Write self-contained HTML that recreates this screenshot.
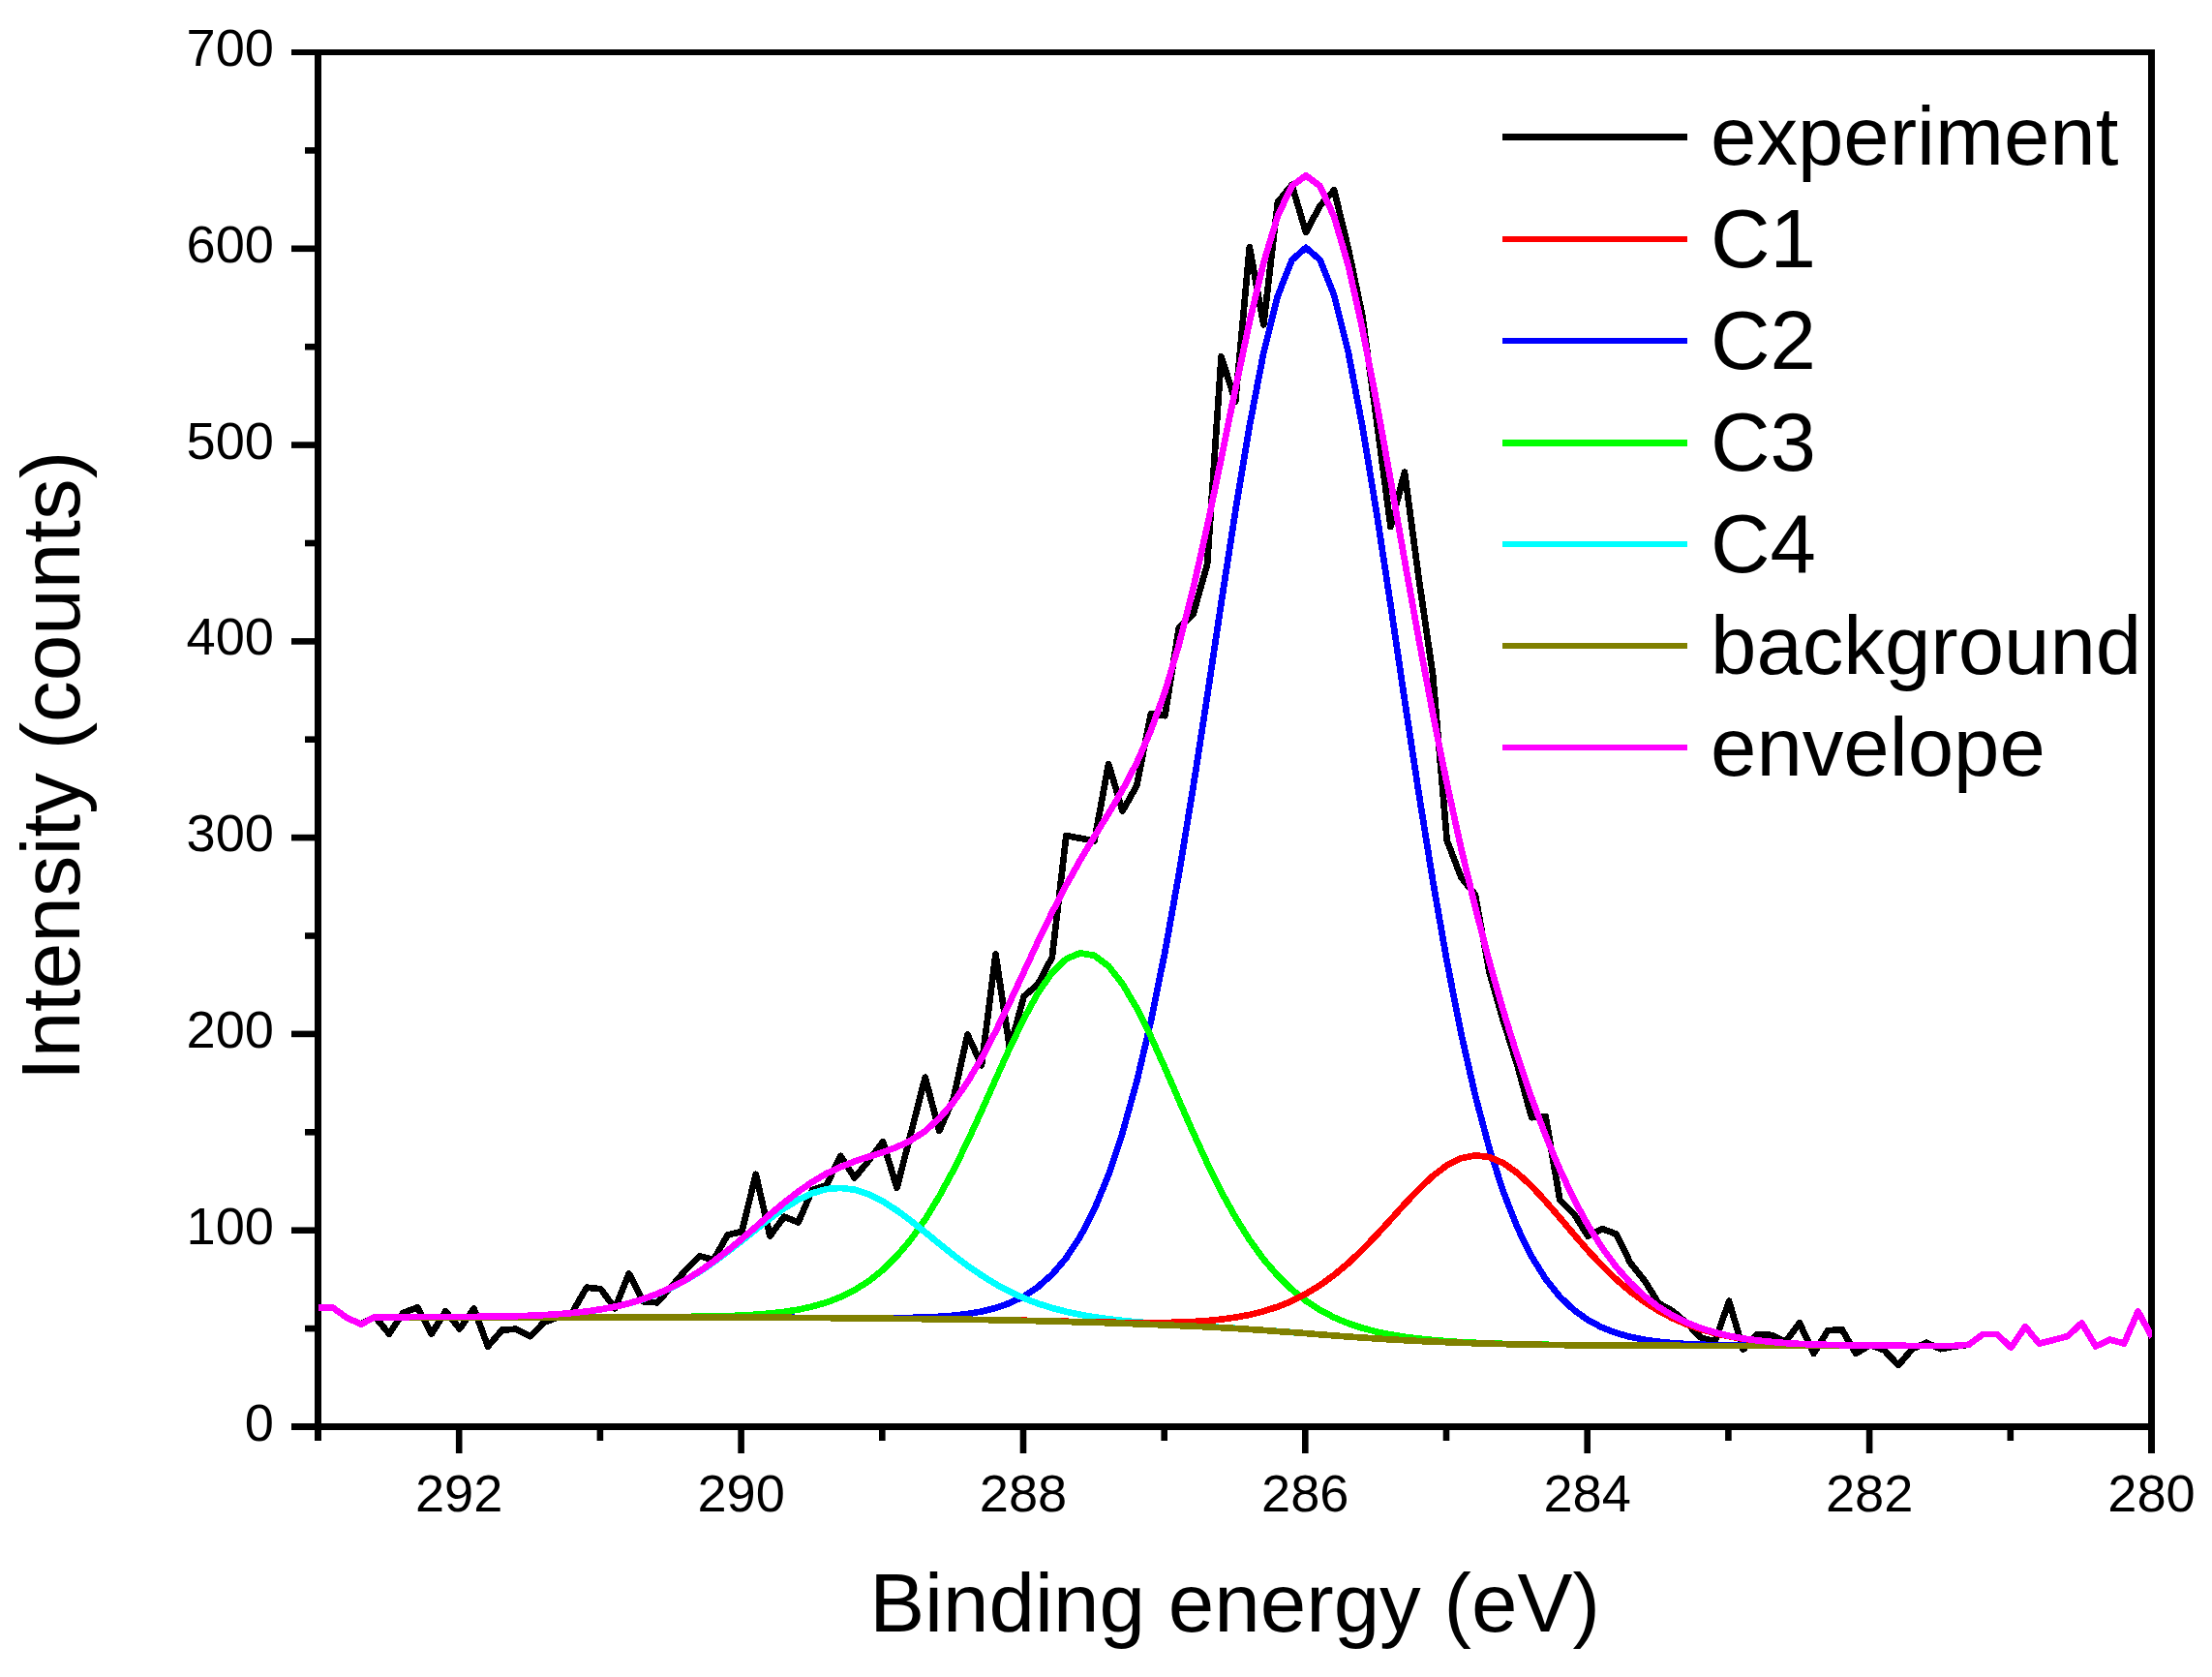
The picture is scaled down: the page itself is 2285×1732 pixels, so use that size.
<!DOCTYPE html>
<html lang="en"><head><meta charset="utf-8"><title>XPS C 1s fit</title>
<style>html,body{margin:0;padding:0;background:#fff;overflow:hidden}svg{display:block}</style></head>
<body>
<svg width="2285" height="1732" viewBox="0 0 2285 1732" role="img" aria-label="XPS C 1s spectrum with fitted components">
<rect width="2285" height="1732" fill="#fff"/>
<defs><clipPath id="pc"><rect x="327.8" y="34.0" width="1895.2" height="1439.5"/></clipPath></defs>
<g fill="#000">
<rect x="325" y="51" width="7" height="1437" shape-rendering="crispEdges"/>
<rect x="2219" y="51" width="7" height="1450" shape-rendering="crispEdges"/>
<rect x="301" y="51" width="1925" height="6" shape-rendering="crispEdges"/>
<rect x="301" y="1470" width="1925" height="7" shape-rendering="crispEdges"/>
<rect x="315" y="1368.8" width="12" height="6.6"/>
<rect x="301" y="1267.4" width="26" height="6.6"/>
<rect x="315" y="1166.0" width="12" height="6.6"/>
<rect x="301" y="1064.6" width="26" height="6.6"/>
<rect x="315" y="963.2" width="12" height="6.6"/>
<rect x="301" y="861.8" width="26" height="6.6"/>
<rect x="315" y="760.4" width="12" height="6.6"/>
<rect x="301" y="659.1" width="26" height="6.6"/>
<rect x="315" y="557.7" width="12" height="6.6"/>
<rect x="301" y="456.3" width="26" height="6.6"/>
<rect x="315" y="354.9" width="12" height="6.6"/>
<rect x="301" y="253.5" width="26" height="6.6"/>
<rect x="315" y="152.1" width="12" height="6.6"/>
<rect x="470.9" y="1475" width="6.6" height="26"/>
<rect x="616.6" y="1475" width="6.6" height="13"/>
<rect x="762.3" y="1475" width="6.6" height="26"/>
<rect x="908.0" y="1475" width="6.6" height="13"/>
<rect x="1053.7" y="1475" width="6.6" height="26"/>
<rect x="1199.4" y="1475" width="6.6" height="13"/>
<rect x="1345.0" y="1475" width="6.6" height="26"/>
<rect x="1490.7" y="1475" width="6.6" height="13"/>
<rect x="1636.4" y="1475" width="6.6" height="26"/>
<rect x="1782.1" y="1475" width="6.6" height="13"/>
<rect x="1927.8" y="1475" width="6.6" height="26"/>
<rect x="2073.5" y="1475" width="6.6" height="13"/>
</g>
<g clip-path="url(#pc)" fill="none" stroke-width="6.70" stroke-linejoin="round" stroke-linecap="butt" shape-rendering="crispEdges">
<polyline stroke="#000000" points="329.2,1350.5 343.8,1350.5 358.3,1361.0 372.9,1367.6 387.5,1360.0 402.0,1377.6 416.6,1355.9 431.2,1350.3 445.8,1377.6 460.3,1354.3 474.9,1372.4 489.5,1351.4 504.0,1390.6 518.6,1373.6 533.2,1372.7 547.7,1380.2 562.3,1365.4 576.9,1360.5 591.4,1355.1 606.0,1329.7 620.6,1331.3 635.2,1351.3 649.7,1315.4 664.3,1344.2 678.9,1345.3 693.4,1329.0 708.0,1312.0 722.6,1297.3 737.1,1301.0 751.7,1275.4 766.3,1272.0 780.8,1212.9 795.4,1276.5 810.0,1256.6 824.6,1262.4 839.1,1229.0 853.7,1224.0 868.3,1193.9 882.8,1216.5 897.4,1198.7 912.0,1179.1 926.5,1226.8 941.1,1170.0 955.7,1112.7 970.2,1168.0 984.8,1135.0 999.4,1068.5 1014.0,1100.2 1028.5,985.4 1043.1,1083.0 1057.7,1029.0 1072.2,1016.4 1086.8,988.7 1101.4,863.0 1115.9,865.8 1130.5,868.5 1145.1,789.0 1159.6,837.5 1174.2,811.6 1188.8,737.4 1203.4,739.2 1217.9,648.0 1232.5,634.4 1247.1,583.0 1261.6,368.3 1276.2,414.7 1290.8,255.2 1305.3,335.4 1319.9,208.8 1334.5,191.0 1349.0,240.1 1363.6,212.4 1378.2,196.4 1392.8,256.7 1407.3,326.0 1421.9,433.0 1436.5,544.0 1451.0,487.6 1465.6,597.0 1480.2,697.4 1494.7,868.0 1509.3,906.0 1523.9,924.0 1538.4,1003.6 1553.0,1054.5 1567.6,1101.0 1582.2,1154.2 1596.7,1153.3 1611.3,1239.2 1625.9,1253.7 1640.4,1276.8 1655.0,1269.1 1669.6,1274.5 1684.1,1304.3 1698.7,1322.4 1713.3,1345.9 1727.8,1354.0 1742.4,1366.5 1757.0,1381.5 1771.6,1385.5 1786.1,1343.8 1800.7,1393.7 1815.3,1377.9 1829.8,1378.9 1844.4,1385.9 1859.0,1366.4 1873.5,1398.0 1888.1,1374.3 1902.7,1373.1 1917.2,1398.0 1931.8,1388.9 1946.4,1394.5 1961.0,1410.0 1975.5,1393.0 1990.1,1386.8 2004.7,1393.2 2019.2,1390.6 2033.8,1388.7 2048.4,1378.0 2062.9,1378.0 2077.5,1391.8 2092.1,1370.2 2106.6,1387.7 2121.2,1383.9 2135.8,1380.1 2150.4,1366.4 2164.9,1390.5 2179.5,1383.5 2194.1,1387.6 2208.6,1354.4 2223.2,1381.1"/>
<polyline stroke="#0000ff" points="387.5,1360.2 402.0,1360.2 416.6,1360.2 431.2,1360.2 445.8,1360.2 460.3,1360.2 474.9,1360.2 489.5,1360.2 504.0,1360.2 518.6,1360.2 533.2,1360.2 547.7,1360.2 562.3,1360.2 576.9,1360.2 591.4,1360.2 606.0,1360.2 620.6,1360.2 635.2,1360.2 649.7,1360.2 664.3,1360.2 678.9,1360.2 693.4,1360.3 708.0,1360.3 722.6,1360.3 737.1,1360.4 751.7,1360.4 766.3,1360.5 780.8,1360.6 795.4,1360.7 810.0,1360.7 824.6,1360.9 839.1,1361.0 853.7,1361.1 868.3,1361.2 882.8,1361.2 897.4,1361.3 912.0,1361.3 926.5,1361.2 941.1,1360.9 955.7,1360.5 970.2,1359.8 984.8,1358.7 999.4,1357.0 1014.0,1354.5 1028.5,1350.9 1043.1,1345.8 1057.7,1338.8 1072.2,1329.1 1086.8,1316.2 1101.4,1299.2 1115.9,1277.1 1130.5,1248.9 1145.1,1213.5 1159.6,1169.9 1174.2,1117.3 1188.8,1055.2 1203.4,983.3 1217.9,902.3 1232.5,813.5 1247.1,719.1 1261.6,622.4 1276.2,527.7 1290.8,439.9 1305.3,364.2 1319.9,305.7 1334.5,268.6 1349.0,255.8 1363.6,268.3 1378.2,305.2 1392.8,363.8 1407.3,440.0 1421.9,528.7 1436.5,624.7 1451.0,723.0 1465.6,819.2 1480.2,910.1 1494.7,993.2 1509.3,1067.2 1523.9,1131.3 1538.4,1185.8 1553.0,1231.1 1567.6,1268.1 1582.2,1297.7 1596.7,1321.1 1611.3,1339.2 1625.9,1353.0 1640.4,1363.4 1655.0,1371.1 1669.6,1376.7 1684.1,1380.8 1698.7,1383.7 1713.3,1385.7 1727.8,1387.1 1742.4,1388.1 1757.0,1388.7 1771.6,1389.2 1786.1,1389.5 1800.7,1389.6 1815.3,1389.8 1829.8,1389.8 1844.4,1389.9 1859.0,1389.9 1873.5,1389.9 1888.1,1389.9 1902.7,1389.9 1917.2,1389.9 1931.8,1389.9 1946.4,1390.0 1961.0,1390.0 1975.5,1390.0 1990.1,1390.0 2004.7,1390.0 2019.2,1390.0"/>
<polyline stroke="#00ff00" points="387.5,1360.2 402.0,1360.2 416.6,1360.2 431.2,1360.2 445.8,1360.2 460.3,1360.2 474.9,1360.2 489.5,1360.2 504.0,1360.2 518.6,1360.2 533.2,1360.2 547.7,1360.2 562.3,1360.2 576.9,1360.2 591.4,1360.2 606.0,1360.2 620.6,1360.2 635.2,1360.2 649.7,1360.2 664.3,1360.1 678.9,1360.1 693.4,1360.0 708.0,1359.9 722.6,1359.8 737.1,1359.5 751.7,1359.1 766.3,1358.6 780.8,1357.7 795.4,1356.5 810.0,1354.9 824.6,1352.6 839.1,1349.4 853.7,1345.2 868.3,1339.6 882.8,1332.4 897.4,1323.1 912.0,1311.5 926.5,1297.2 941.1,1279.9 955.7,1259.4 970.2,1235.6 984.8,1208.7 999.4,1179.1 1014.0,1147.4 1028.5,1114.7 1043.1,1082.4 1057.7,1052.1 1072.2,1025.6 1086.8,1004.5 1101.4,990.4 1115.9,984.3 1130.5,986.9 1145.1,997.8 1159.6,1016.3 1174.2,1041.1 1188.8,1070.5 1203.4,1102.9 1217.9,1136.4 1232.5,1169.6 1247.1,1201.4 1261.6,1230.8 1276.2,1257.2 1290.8,1280.5 1305.3,1300.6 1319.9,1317.6 1334.5,1331.8 1349.0,1343.5 1363.6,1353.0 1378.2,1360.7 1392.8,1366.8 1407.3,1371.6 1421.9,1375.4 1436.5,1378.4 1451.0,1380.8 1465.6,1382.6 1480.2,1384.0 1494.7,1385.2 1509.3,1386.1 1523.9,1386.8 1538.4,1387.4 1553.0,1387.9 1567.6,1388.3 1582.2,1388.6 1596.7,1388.8 1611.3,1389.1 1625.9,1389.2 1640.4,1389.4 1655.0,1389.5 1669.6,1389.6 1684.1,1389.7 1698.7,1389.8 1713.3,1389.8 1727.8,1389.8 1742.4,1389.9 1757.0,1389.9 1771.6,1389.9 1786.1,1389.9 1800.7,1389.9 1815.3,1389.9 1829.8,1389.9 1844.4,1389.9 1859.0,1389.9 1873.5,1389.9 1888.1,1389.9 1902.7,1390.0 1917.2,1390.0 1931.8,1390.0 1946.4,1390.0 1961.0,1390.0 1975.5,1390.0 1990.1,1390.0 2004.7,1390.0 2019.2,1390.0"/>
<polyline stroke="#00ffff" points="387.5,1360.2 402.0,1360.2 416.6,1360.2 431.2,1360.1 445.8,1360.1 460.3,1360.1 474.9,1360.0 489.5,1359.9 504.0,1359.7 518.6,1359.5 533.2,1359.2 547.7,1358.8 562.3,1358.1 576.9,1357.2 591.4,1356.1 606.0,1354.5 620.6,1352.4 635.2,1349.6 649.7,1346.2 664.3,1341.8 678.9,1336.5 693.4,1330.0 708.0,1322.4 722.6,1313.6 737.1,1303.7 751.7,1292.9 766.3,1281.5 780.8,1269.8 795.4,1258.4 810.0,1248.0 824.6,1239.1 839.1,1232.3 853.7,1228.1 868.3,1226.9 882.8,1228.7 897.4,1233.4 912.0,1240.7 926.5,1250.1 941.1,1260.9 955.7,1272.6 970.2,1284.5 984.8,1296.2 999.4,1307.2 1014.0,1317.2 1028.5,1326.2 1043.1,1334.0 1057.7,1340.7 1072.2,1346.3 1086.8,1350.9 1101.4,1354.7 1115.9,1357.8 1130.5,1360.3 1145.1,1362.3 1159.6,1364.0 1174.2,1365.3 1188.8,1366.5 1203.4,1367.5 1217.9,1368.4 1232.5,1369.3 1247.1,1370.1 1261.6,1371.0 1276.2,1371.9 1290.8,1372.9 1305.3,1373.9 1319.9,1374.9 1334.5,1376.0 1349.0,1377.1 1363.6,1378.3 1378.2,1379.4 1392.8,1380.5 1407.3,1381.5 1421.9,1382.5 1436.5,1383.4 1451.0,1384.2 1465.6,1385.0 1480.2,1385.6 1494.7,1386.2 1509.3,1386.8 1523.9,1387.3 1538.4,1387.7 1553.0,1388.1 1567.6,1388.4 1582.2,1388.7 1596.7,1388.9 1611.3,1389.1 1625.9,1389.3 1640.4,1389.4 1655.0,1389.5 1669.6,1389.6 1684.1,1389.7 1698.7,1389.8 1713.3,1389.8 1727.8,1389.8 1742.4,1389.9 1757.0,1389.9 1771.6,1389.9 1786.1,1389.9 1800.7,1389.9 1815.3,1389.9 1829.8,1389.9 1844.4,1389.9 1859.0,1389.9 1873.5,1389.9 1888.1,1389.9 1902.7,1390.0 1917.2,1390.0 1931.8,1390.0 1946.4,1390.0 1961.0,1390.0 1975.5,1390.0 1990.1,1390.0 2004.7,1390.0 2019.2,1390.0"/>
<polyline stroke="#ff0000" points="387.5,1360.2 402.0,1360.2 416.6,1360.2 431.2,1360.2 445.8,1360.2 460.3,1360.2 474.9,1360.2 489.5,1360.2 504.0,1360.2 518.6,1360.2 533.2,1360.2 547.7,1360.2 562.3,1360.2 576.9,1360.2 591.4,1360.2 606.0,1360.2 620.6,1360.2 635.2,1360.2 649.7,1360.2 664.3,1360.2 678.9,1360.2 693.4,1360.3 708.0,1360.3 722.6,1360.3 737.1,1360.4 751.7,1360.4 766.3,1360.5 780.8,1360.6 795.4,1360.7 810.0,1360.8 824.6,1360.9 839.1,1361.0 853.7,1361.1 868.3,1361.3 882.8,1361.4 897.4,1361.6 912.0,1361.7 926.5,1361.9 941.1,1362.0 955.7,1362.2 970.2,1362.4 984.8,1362.6 999.4,1362.8 1014.0,1363.0 1028.5,1363.3 1043.1,1363.5 1057.7,1363.8 1072.2,1364.1 1086.8,1364.5 1101.4,1364.8 1115.9,1365.1 1130.5,1365.4 1145.1,1365.7 1159.6,1366.0 1174.2,1366.1 1188.8,1366.1 1203.4,1366.0 1217.9,1365.7 1232.5,1365.0 1247.1,1364.1 1261.6,1362.6 1276.2,1360.6 1290.8,1357.9 1305.3,1354.3 1319.9,1349.6 1334.5,1343.7 1349.0,1336.3 1363.6,1327.4 1378.2,1316.8 1392.8,1304.6 1407.3,1290.8 1421.9,1275.6 1436.5,1259.7 1451.0,1243.6 1465.6,1228.2 1480.2,1214.5 1494.7,1203.5 1509.3,1196.2 1523.9,1193.3 1538.4,1195.0 1553.0,1201.3 1567.6,1211.6 1582.2,1225.1 1596.7,1240.8 1611.3,1257.7 1625.9,1274.9 1640.4,1291.6 1655.0,1307.1 1669.6,1321.3 1684.1,1333.8 1698.7,1344.6 1713.3,1353.8 1727.8,1361.5 1742.4,1367.8 1757.0,1372.9 1771.6,1377.0 1786.1,1380.2 1800.7,1382.7 1815.3,1384.6 1829.8,1386.0 1844.4,1387.1 1859.0,1387.9 1873.5,1388.5 1888.1,1388.9 1902.7,1389.3 1917.2,1389.5 1931.8,1389.6 1946.4,1389.7 1961.0,1389.8 1975.5,1389.9 1990.1,1389.9 2004.7,1389.9 2019.2,1389.9"/>
<polyline stroke="#808000" points="387.5,1360.2 402.0,1360.2 416.6,1360.2 431.2,1360.2 445.8,1360.2 460.3,1360.2 474.9,1360.2 489.5,1360.2 504.0,1360.2 518.6,1360.2 533.2,1360.2 547.7,1360.2 562.3,1360.2 576.9,1360.2 591.4,1360.2 606.0,1360.2 620.6,1360.2 635.2,1360.2 649.7,1360.2 664.3,1360.2 678.9,1360.2 693.4,1360.3 708.0,1360.3 722.6,1360.3 737.1,1360.4 751.7,1360.4 766.3,1360.5 780.8,1360.6 795.4,1360.7 810.0,1360.8 824.6,1360.9 839.1,1361.0 853.7,1361.1 868.3,1361.3 882.8,1361.4 897.4,1361.6 912.0,1361.7 926.5,1361.9 941.1,1362.0 955.7,1362.2 970.2,1362.4 984.8,1362.6 999.4,1362.8 1014.0,1363.0 1028.5,1363.3 1043.1,1363.6 1057.7,1363.9 1072.2,1364.2 1086.8,1364.6 1101.4,1365.0 1115.9,1365.4 1130.5,1365.8 1145.1,1366.3 1159.6,1366.8 1174.2,1367.3 1188.8,1367.9 1203.4,1368.4 1217.9,1369.1 1232.5,1369.7 1247.1,1370.4 1261.6,1371.2 1276.2,1372.0 1290.8,1372.9 1305.3,1373.9 1319.9,1375.0 1334.5,1376.0 1349.0,1377.1 1363.6,1378.3 1378.2,1379.4 1392.8,1380.5 1407.3,1381.5 1421.9,1382.5 1436.5,1383.4 1451.0,1384.2 1465.6,1385.0 1480.2,1385.6 1494.7,1386.2 1509.3,1386.8 1523.9,1387.3 1538.4,1387.7 1553.0,1388.1 1567.6,1388.4 1582.2,1388.7 1596.7,1388.9 1611.3,1389.1 1625.9,1389.3 1640.4,1389.4 1655.0,1389.5 1669.6,1389.6 1684.1,1389.7 1698.7,1389.8 1713.3,1389.8 1727.8,1389.8 1742.4,1389.9 1757.0,1389.9 1771.6,1389.9 1786.1,1389.9 1800.7,1389.9 1815.3,1389.9 1829.8,1389.9 1844.4,1389.9 1859.0,1389.9 1873.5,1389.9 1888.1,1389.9 1902.7,1390.0 1917.2,1390.0 1931.8,1390.0 1946.4,1390.0 1961.0,1390.0 1975.5,1390.0 1990.1,1390.0 2004.7,1390.0 2019.2,1390.0"/>
<polyline stroke="#ff00ff" points="329.2,1350.5 343.8,1350.5 358.3,1361.0 372.9,1367.6 387.5,1360.2 402.0,1360.2 416.6,1360.2 431.2,1360.1 445.8,1360.1 460.3,1360.1 474.9,1360.0 489.5,1359.9 504.0,1359.7 518.6,1359.5 533.2,1359.2 547.7,1358.8 562.3,1358.1 576.9,1357.2 591.4,1356.0 606.0,1354.4 620.6,1352.3 635.2,1349.6 649.7,1346.1 664.3,1341.7 678.9,1336.3 693.4,1329.8 708.0,1322.0 722.6,1313.0 737.1,1302.8 751.7,1291.6 766.3,1279.5 780.8,1267.0 795.4,1254.3 810.0,1242.1 824.6,1230.8 839.1,1220.7 853.7,1212.1 868.3,1205.2 882.8,1199.5 897.4,1194.7 912.0,1190.1 926.5,1184.7 941.1,1177.7 955.7,1168.1 970.2,1155.1 984.8,1138.4 999.4,1117.6 1014.0,1093.0 1028.5,1065.2 1043.1,1035.1 1057.7,1003.7 1072.2,972.5 1086.8,942.3 1101.4,914.2 1115.9,888.2 1130.5,863.9 1145.1,840.3 1159.6,815.7 1174.2,787.9 1188.8,754.7 1203.4,714.4 1217.9,665.6 1232.5,608.3 1247.1,543.4 1261.6,473.3 1276.2,401.4 1290.8,332.3 1305.3,271.2 1319.9,223.0 1334.5,192.0 1349.0,181.3 1363.6,192.2 1378.2,224.0 1392.8,274.3 1407.3,339.4 1421.9,414.8 1436.5,496.0 1451.0,578.9 1465.6,660.1 1480.2,737.3 1494.7,809.4 1509.3,875.9 1523.9,936.9 1538.4,992.8 1553.0,1044.2 1567.6,1091.2 1582.2,1134.1 1596.7,1173.0 1611.3,1207.8 1625.9,1238.6 1640.4,1265.5 1655.0,1288.7 1669.6,1308.4 1684.1,1324.9 1698.7,1338.6 1713.3,1349.8 1727.8,1358.8 1742.4,1366.0 1757.0,1371.8 1771.6,1376.2 1786.1,1379.7 1800.7,1382.4 1815.3,1384.4 1829.8,1385.9 1844.4,1387.1 1859.0,1387.9 1873.5,1388.5 1888.1,1388.9 1902.7,1389.2 1917.2,1389.5 1931.8,1389.6 1946.4,1389.7 1961.0,1389.8 1975.5,1389.9 1990.1,1389.9 2004.7,1389.9 2019.2,1389.9 2033.8,1388.7 2048.4,1378.0 2062.9,1378.0 2077.5,1391.8 2092.1,1370.2 2106.6,1387.7 2121.2,1383.9 2135.8,1380.1 2150.4,1366.4 2164.9,1390.5 2179.5,1383.5 2194.1,1387.6 2208.6,1354.4 2223.2,1381.1"/>
</g>
<g font-family="'Liberation Sans', sans-serif" font-size="54.20" fill="#000">
<text x="283.0" y="1487.5" text-anchor="end">0</text>
<text x="283.0" y="1284.7" text-anchor="end">100</text>
<text x="283.0" y="1081.9" text-anchor="end">200</text>
<text x="283.0" y="879.1" text-anchor="end">300</text>
<text x="283.0" y="676.4" text-anchor="end">400</text>
<text x="283.0" y="473.6" text-anchor="end">500</text>
<text x="283.0" y="270.8" text-anchor="end">600</text>
<text x="283.0" y="68.0" text-anchor="end">700</text>
<text x="2222.5" y="1561.0" text-anchor="middle">280</text>
<text x="1931.1" y="1561.0" text-anchor="middle">282</text>
<text x="1639.7" y="1561.0" text-anchor="middle">284</text>
<text x="1348.3" y="1561.0" text-anchor="middle">286</text>
<text x="1057.0" y="1561.0" text-anchor="middle">288</text>
<text x="765.6" y="1561.0" text-anchor="middle">290</text>
<text x="474.2" y="1561.0" text-anchor="middle">292</text>
</g>
<g font-family="'Liberation Sans', sans-serif" font-size="85.40" fill="#000">
<text x="1275.5" y="1685.0" text-anchor="middle">Binding energy (eV)</text>
<text transform="translate(82.0 791.0) rotate(-90)" text-anchor="middle">Intensity (counts)</text>
</g>
<g font-family="'Liberation Sans', sans-serif" font-size="85.20" fill="#000">
<rect x="1552" y="138" width="191" height="7" fill="#000000" shape-rendering="crispEdges"/>
<text x="1767.0" y="170.3">experiment</text>
<rect x="1552" y="244" width="191" height="6" fill="#ff0000" shape-rendering="crispEdges"/>
<text x="1767.0" y="275.5">C1</text>
<rect x="1552" y="349" width="191" height="6" fill="#0000ff" shape-rendering="crispEdges"/>
<text x="1767.0" y="380.7">C2</text>
<rect x="1552" y="454" width="191" height="7" fill="#00ff00" shape-rendering="crispEdges"/>
<text x="1767.0" y="485.8">C3</text>
<rect x="1552" y="559" width="191" height="6" fill="#00ffff" shape-rendering="crispEdges"/>
<text x="1767.0" y="591.0">C4</text>
<rect x="1552" y="664" width="191" height="6" fill="#808000" shape-rendering="crispEdges"/>
<text x="1767.0" y="696.2">background</text>
<rect x="1552" y="769" width="191" height="6" fill="#ff00ff" shape-rendering="crispEdges"/>
<text x="1767.0" y="801.4">envelope</text>
</g>
</svg>
</body></html>
